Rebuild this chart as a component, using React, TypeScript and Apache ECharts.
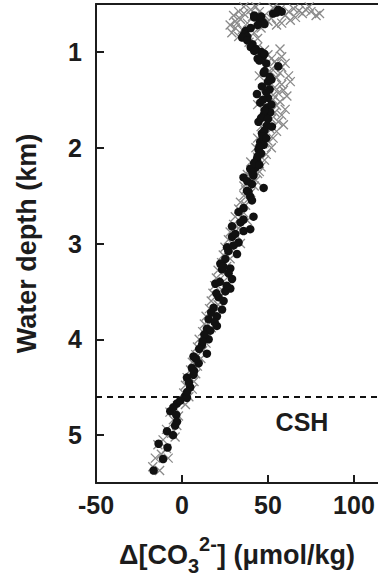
import React, { useEffect, useRef } from "react";
import * as echarts from "echarts";

// Tick values
const depthTicks = [1, 2, 3, 4, 5];
const xTicks = [0, 50, 100];
const xLabels = [-50, 0, 50, 100];

// CSH depth (km)
const cshDepth = [4.6];

// Gray crosses: [Δ[CO3 2-], depth km]
const crossesUpper: [number, number][] = [
  [30, 0.62], [32, 0.7], [28, 0.72], [31, 0.75], [34, 0.66], [29, 0.8], [33, 0.84], [35, 0.77],
  [38, 0.7], [36, 0.6], [40, 0.56], [43, 0.53], [45, 0.58], [48, 0.62], [50, 0.68], [52, 0.65],
  [55, 0.72], [58, 0.7], [46, 0.75], [42, 0.8], [39, 0.9], [44, 0.86], [60, 0.62], [62, 0.58],
  [65, 0.55], [68, 0.57], [70, 0.6], [72, 0.56], [75, 0.58], [78, 0.62], [80, 0.6], [66, 0.64],
  [63, 0.67], [74, 0.53], [57, 0.56], [53, 0.54], [36, 0.53], [33, 0.58], [31, 0.68], [41, 0.63],
];
const crossesMiddle: [number, number][] = [
  [44, 0.95], [48, 0.98], [50, 1.03], [52, 1.07], [54, 1.1], [55, 1.13], [58, 1.16], [53, 1.19],
  [57, 1.22], [62, 1.25], [55, 1.27], [63, 1.31], [58, 1.34], [54, 1.37], [59, 1.4], [56, 1.43],
  [61, 1.46], [53, 1.5], [57, 1.52], [55, 1.56], [60, 1.6], [54, 1.63], [58, 1.66], [52, 1.7],
  [56, 1.73], [59, 1.76], [51, 1.8], [55, 1.83], [49, 1.86], [53, 1.9], [50, 1.93], [47, 1.96],
  [52, 2.0], [46, 2.03], [49, 2.07], [44, 2.1], [48, 2.13], [43, 2.17], [46, 2.2], [41, 2.24],
  [44, 2.27], [40, 2.3], [43, 2.34], [38, 2.37], [42, 2.4], [37, 2.44], [40, 2.47],
  [45, 1.25], [47, 1.4], [44, 1.55], [48, 1.68], [46, 1.78], [44, 1.9], [43, 2.0], [40, 2.15],
  [38, 2.28], [36, 2.4], [51, 1.2], [53, 1.45], [52, 1.62], [50, 1.75], [48, 1.95], [45, 2.25],
  [57, 0.97], [58, 1.05], [60, 1.12],
];
const crossesLower: [number, number][] = [
  [36, 2.5], [39, 2.53], [34, 2.57], [37, 2.6], [33, 2.64], [36, 2.68], [31, 2.72], [38, 2.76],
  [30, 2.8], [33, 2.84], [28, 2.88], [32, 2.92], [27, 2.96], [34, 3.0], [25, 3.04], [29, 3.08],
  [24, 3.12], [28, 3.16], [23, 3.2], [26, 3.24], [21, 3.28], [25, 3.32], [20, 3.36], [24, 3.4],
  [19, 3.44], [23, 3.48], [18, 3.52], [22, 3.56], [17, 3.6], [21, 3.64], [16, 3.68], [19, 3.72],
  [14, 3.76], [18, 3.8], [13, 3.84], [17, 3.88], [12, 3.92], [15, 3.96], [10, 4.0], [14, 4.04],
  [9, 4.08], [12, 4.12], [8, 4.16], [11, 4.2], [6, 4.24], [9, 4.28], [5, 4.32], [8, 4.36],
  [3, 4.4], [7, 4.44], [2, 4.48], [6, 4.52], [1, 4.56], [4, 4.6],
  [-1, 4.64], [2, 4.68], [-4, 4.72], [-7, 4.76], [-2, 4.8], [-5, 4.84], [-3, 4.9], [-9, 4.94],
  [-6, 4.98], [-4, 5.02], [-11, 5.05], [-14, 5.1], [-9, 5.14], [-12, 5.2], [-15.5, 5.24],
  [-8, 5.24], [-17, 5.33], [-13, 5.37],
];

// Black dots: [Δ[CO3 2-], depth km]
const dotsUpper: [number, number][] = [
  [56, 0.56], [58, 0.58], [53, 0.6], [55, 0.59], [42, 0.64], [45, 0.66], [47, 0.69], [48, 0.71],
  [44, 0.72], [37, 0.78], [36, 0.82], [38, 0.84], [35, 0.85], [41, 0.92], [40, 0.95], [43, 0.97],
  [46, 1.0], [47, 1.05], [44, 1.07], [45, 1.09], [49, 1.12], [56, 1.15], [42, 0.62], [46, 0.63],
  [40, 0.75], [38, 0.88], [42, 0.99], [48, 1.02],
];
const dotsMiddle: [number, number][] = [
  [47.5, 1.22], [51, 1.26], [52, 1.29], [46.5, 1.36], [51, 1.39], [43.6, 1.44], [50, 1.48],
  [45.5, 1.53], [49.4, 1.58], [51.3, 1.63], [47.5, 1.66], [44.5, 1.73], [49.4, 1.77], [52.3, 1.78],
  [46.5, 1.85], [45.5, 1.94], [47.5, 1.97], [44.5, 2.02], [43.6, 2.12], [42.6, 2.21], [39.7, 2.22],
  [35.8, 2.31], [41.6, 2.29], [40.7, 2.38], [47.5, 2.42], [38.7, 2.46], [48, 1.2], [50, 1.31],
  [49, 1.42], [47, 1.5], [52, 1.55], [48, 1.61], [46, 1.69], [50, 1.7], [48, 1.82], [47, 1.88],
  [49, 1.9], [45, 1.99], [46, 2.06], [44, 2.09], [42, 2.16], [45, 2.18], [41, 2.26], [38, 2.35],
];
const dotsLower: [number, number][] = [
  [37.8, 2.45], [39.7, 2.51], [40.7, 2.55], [35.8, 2.63], [32.9, 2.67], [41.6, 2.72], [35.8, 2.75],
  [29.1, 2.82], [35.8, 2.87], [39.7, 2.85], [29.1, 2.93], [32.9, 2.99], [26.2, 3.04], [32, 3.11],
  [25.2, 3.16], [22.3, 3.21], [23.3, 3.27], [28.1, 3.26], [27.1, 3.31], [29.1, 3.37], [19.4, 3.42],
  [28.1, 3.47], [25.2, 3.5], [21.3, 3.56], [24.2, 3.6], [18.4, 3.67], [23.3, 3.69], [20.3, 3.76],
  [15.5, 3.79], [20.3, 3.86], [14.5, 3.89], [16.5, 3.91], [15.5, 4.0], [11.6, 4.06], [14.5, 4.15],
  [6.7, 4.18], [9.7, 4.25], [5.8, 4.3], [6.7, 4.37], [2.9, 4.4], [4.8, 4.5], [1.9, 4.59],
  [2.9, 4.61], [-2.9, 4.67], [-6.8, 4.75], [-3.3, 4.79], [-2.9, 4.86], [-8.7, 4.96], [-5.2, 5.0],
  [-13.6, 5.09], [-8.4, 5.13], [-11, 5.25], [-16.5, 5.37],
  [34, 2.78], [31, 2.9], [27, 3.08], [30, 3.02], [24, 3.24], [22, 3.4], [26, 3.44], [20, 3.52],
  [17, 3.72], [19, 3.82], [13, 3.95], [12, 4.02], [10, 4.1], [8, 4.2], [7, 4.33], [4, 4.45],
  [3, 4.55], [-1, 4.64], [-5, 4.71], [-4, 4.9],
];

const crosses = [...crossesUpper, ...crossesMiddle, ...crossesLower];
const dots = [...dotsUpper, ...dotsMiddle, ...dotsLower];

const FONT = "'Liberation Sans', Arial, Helvetica, sans-serif";
const INK = "#1c1c1c";

export default function App() {
  const ref = useRef<HTMLDivElement>(null);
  useEffect(() => {
    if (!ref.current) return;
    const chart = echarts.init(ref.current, undefined, { renderer: "svg" });
    chart.setOption({
      animation: false,
      backgroundColor: "#ffffff",
      grid: {
        left: 96,
        top: 4,
        height: 490,
        right: 0,
        show: false,
      },
      xAxis: [
        {
          type: "value",
          min: -50,
          max: 114,
          interval: 50,
          splitLine: { show: false },
          axisLine: { show: true, onZero: false, lineStyle: { color: INK, width: 2 } },
          axisTick: { show: true, inside: true, length: 8, customValues: xTicks, lineStyle: { color: INK, width: 2 } },
          axisLabel: {
            customValues: xLabels,
            margin: 9,
            color: INK,
            fontFamily: FONT,
            fontWeight: "bold",
            fontSize: 25,
          },
          name: "{n|Δ[CO}{sub|3}{sup|2-}{n|] (μmol/kg)}",
          nameLocation: "middle",
          nameGap: 51,
          nameTextStyle: {
            color: INK,
            fontFamily: FONT,
            fontWeight: "bold",
            fontSize: 27,
            rich: {
              n: { fontSize: 27, fontFamily: FONT, fontWeight: "bold", color: INK, lineHeight: 42, verticalAlign: "middle" },
              sub: { fontSize: 20, fontFamily: FONT, fontWeight: "bold", color: INK, verticalAlign: "bottom", lineHeight: 20 },
              sup: { fontSize: 20, fontFamily: FONT, fontWeight: "bold", color: INK, verticalAlign: "top", lineHeight: 20 },
            },
          },
        },
        {
          type: "value",
          position: "top",
          min: -50,
          max: 114,
          splitLine: { show: false },
          axisLine: { show: true, onZero: false, lineStyle: { color: INK, width: 2 } },
          axisTick: { show: false },
          axisLabel: { show: false },
        },
      ],
      yAxis: {
        type: "value",
        inverse: true,
        min: 0.5,
        max: 5.5,
        splitLine: { show: false },
        axisLine: { show: true, onZero: false, lineStyle: { color: INK, width: 2 } },
        axisTick: { show: true, inside: true, length: 8, customValues: depthTicks, lineStyle: { color: INK, width: 2 } },
        axisLabel: {
          customValues: depthTicks,
          margin: 14,
          color: INK,
          fontFamily: FONT,
          fontWeight: "bold",
          fontSize: 25,
        },
        name: "Water depth (km)",
        nameLocation: "middle",
        nameGap: 56,
        nameRotate: 90,
        nameTextStyle: { color: INK, fontFamily: FONT, fontWeight: "bold", fontSize: 27 },
      },
      series: [
        {
          type: "scatter",
          data: crosses,
          symbol: "path://M0,0L10,10M10,0L0,10",
          symbolSize: 9,
          itemStyle: { color: "none", borderColor: "#8a8a8a", borderWidth: 1.3, opacity: 1 },
          silent: true,
          markLine: {
            silent: true,
            symbol: "none",
            label: { show: false },
            lineStyle: { color: "#111", width: 2, type: [6, 5], opacity: 1 },
            data: cshDepth.map((d) => ({ yAxis: d })),
          },
        },
        {
          type: "scatter",
          data: dots,
          symbol: "circle",
          symbolSize: 8.5,
          itemStyle: { color: "#111", opacity: 1 },
          silent: true,
        },
      ],
      graphic: [
        {
          type: "text",
          x: 302,
          y: 422,
          style: {
            text: "CSH",
            fill: INK,
            font: `bold 25px ${FONT}`,
            align: "center",
            verticalAlign: "middle",
          },
        },
      ],
    });
    return () => chart.dispose();
  }, []);
  return (
    <div
      ref={ref}
      style={{ position: "fixed", left: 0, top: 0, width: 378, height: 581, background: "#fff" }}
    />
  );
}
